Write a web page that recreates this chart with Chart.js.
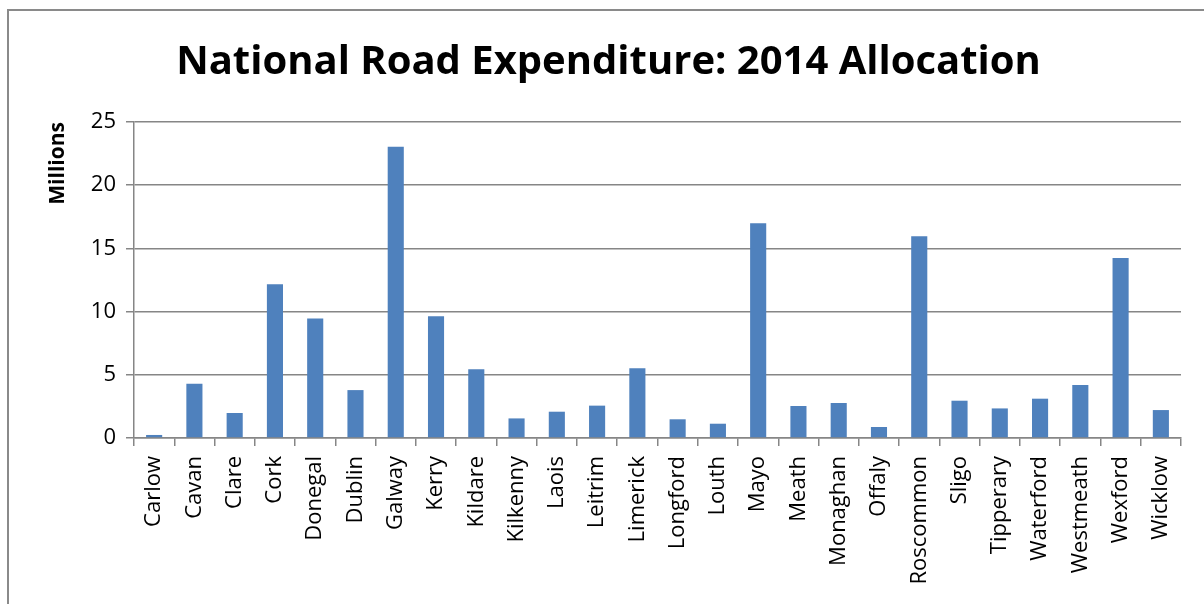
<!DOCTYPE html>
<html>
<head>
<meta charset="utf-8">
<script src="https://cdn.jsdelivr.net/npm/chart.js@4"></script>
<style>
  html, body { margin: 0; padding: 0; background: #fff; overflow: hidden; }
  #frame {
    position: absolute; left: 7px; top: 9px;
    width: 1300px; height: 700px;
    border: 2px solid #8a8a8a;
  }
  #wrap { position: absolute; left: 0; top: 0; width: 1204px; height: 604px; }
</style>
</head>
<body>
<div id="frame"></div>
<div id="wrap"><canvas id="chart"></canvas></div>
<script>
const counties = ['Carlow', 'Cavan', 'Clare', 'Cork', 'Donegal', 'Dublin', 'Galway', 'Kerry', 'Kildare',
  'Kilkenny', 'Laois', 'Leitrim', 'Limerick', 'Longford', 'Louth', 'Mayo', 'Meath', 'Monaghan',
  'Offaly', 'Roscommon', 'Sligo', 'Tipperary', 'Waterford', 'Westmeath', 'Wexford', 'Wicklow'];
const allocation = [0.24, 4.29, 1.98, 12.17, 9.46, 3.79, 23.05, 9.64, 5.43,
  1.55, 2.08, 2.56, 5.51, 1.48, 1.13, 16.99, 2.53, 2.77,
  0.87, 15.96, 2.95, 2.34, 3.11, 4.19, 14.25, 2.21];
const yTicks = [0, 5, 10, 15, 20, 25];

const gridGrey = '#868686';
const fontFamily = "'Open Sans', 'Noto Sans', sans-serif";

const ctx = document.getElementById('chart').getContext('2d');
new Chart(ctx, {
  type: 'bar',
  data: {
    labels: counties,
    datasets: [{
      label: 'Allocation',
      data: allocation,
      backgroundColor: '#4F81BD',
      borderWidth: 0,
      barPercentage: 0.4,
      categoryPercentage: 1
    }]
  },
  options: {
    responsive: true,
    maintainAspectRatio: false,
    animation: false,
    // left padding pushes the title centre right, like the original
    layout: { padding: { left: 36, right: 23, top: 0, bottom: 0 } },
    plugins: {
      legend: { display: false },
      tooltip: { enabled: false },
      title: {
        display: true,
        text: 'National Road Expenditure: 2014 Allocation',
        color: '#000',
        font: { family: fontFamily, size: 40, weight: 'bold', lineHeight: 1.2 },
        padding: { top: 39, bottom: 35 }
      }
    },
    scales: {
      x: {
        grid: {
          offset: true,
          drawOnChartArea: false,
          drawTicks: true,
          tickLength: 8,
          lineWidth: 1.5,
          color: gridGrey
        },
        border: { color: gridGrey, width: 1.5 },
        ticks: {
          color: '#000',
          font: { family: fontFamily, size: 22 },
          minRotation: 90,
          maxRotation: 90,
          autoSkip: false,
          padding: 10
        },
        afterFit: (scale) => { scale.height = 166; }
      },
      y: {
        min: 0,
        max: 25,
        afterBuildTicks: (scale) => { scale.ticks = yTicks.map(v => ({ value: v })); },
        grid: { color: gridGrey, tickLength: 8, lineWidth: 1.5 },
        border: { color: gridGrey, width: 1.5 },
        ticks: {
          color: '#000',
          font: { family: fontFamily, size: 22 },
          padding: 10
        },
        title: {
          display: true,
          text: 'Millions',
          align: 'end',
          color: '#000',
          font: { family: fontFamily, size: 21, weight: 'bold', lineHeight: 1.2 },
          padding: { top: 9, bottom: 0 }
        },
        afterFit: (scale) => { scale.width = 98; }
      }
    }
  }
});
</script>
</body>
</html>
